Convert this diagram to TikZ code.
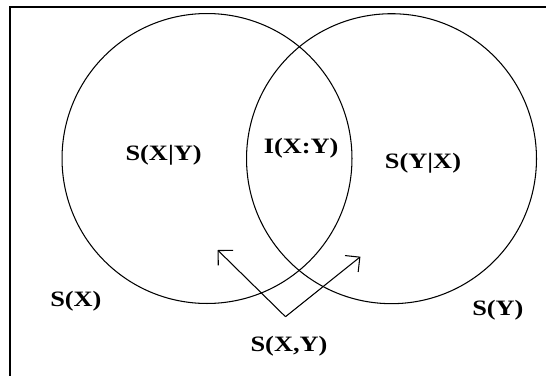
\documentclass[tikz,border=0pt]{standalone}
\usepackage{fontspec}
\usepackage{tikz}
\usetikzlibrary{arrows.meta}
\newfontfamily\vennfont[FakeStretch=1.2]{Liberation Serif}

\begin{document}
\begin{tikzpicture}[x=0.02cm, y=-0.02cm,
  lbl/.style={font=\vennfont\bfseries\fontsize{12.5}{14}\selectfont, inner sep=0pt},
  set/.style={circle, draw, line width=0.6pt, minimum size=5.8cm, inner sep=0pt},
  arr/.style={-{Straight Barb[length=6pt, width=12pt]}, line width=0.6pt}]
\useasboundingbox (0,0) rectangle (546,375);
\clip (0,0) rectangle (546,375);
\draw[line width=1.2pt] (10.4,6.7) rectangle (570,400);

\node[set] (X) at (207,158.5) {};
\node[set] (Y) at (391.5,158.7) {};

\node[lbl] (sxgy) at (163.6,155) {S(X|Y)};
\node[lbl] (ixy) at (301.2,148.3) {I(X:Y)};
\node[lbl] (sygx) at (423,163.3) {S(Y|X)};
\node[lbl] (sx) at (75.9,301.7) {S(X)};
\node[lbl] (sy) at (497.9,310) {S(Y)};
\node[lbl] (sxy) at (289,346.7) {S(X,Y)};

\coordinate (v) at (285.5,316.7);
\coordinate (tl) at (217.6,250);
\coordinate (tr) at (360.4,256.7);
\draw[arr] (v) -- (tl);
\draw[arr] (v) -- (tr);
\end{tikzpicture}
\end{document}
